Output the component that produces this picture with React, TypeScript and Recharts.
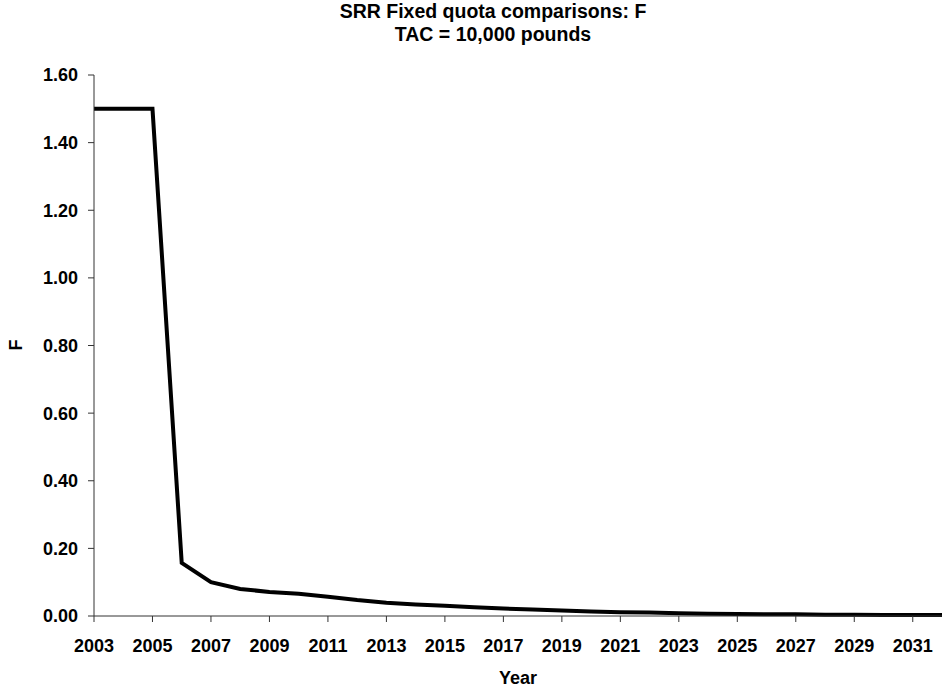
import React from 'react';
import { LineChart, Line, XAxis, YAxis, Label } from 'recharts';

// F by year
const years = [
  2003, 2004, 2005, 2006, 2007, 2008, 2009, 2010, 2011, 2012,
  2013, 2014, 2015, 2016, 2017, 2018, 2019, 2020, 2021, 2022,
  2023, 2024, 2025, 2026, 2027, 2028, 2029, 2030, 2031, 2032,
];
const fValues = [
  1.5, 1.5, 1.5, 0.157, 0.1, 0.08, 0.071, 0.066, 0.057, 0.047,
  0.039, 0.034, 0.03, 0.026, 0.022, 0.019, 0.016, 0.013, 0.011, 0.01,
  0.008, 0.007, 0.006, 0.005, 0.005, 0.004, 0.004, 0.003, 0.003, 0.003,
];
const xTicks = [2003, 2005, 2007, 2009, 2011, 2013, 2015, 2017, 2019, 2021, 2023, 2025, 2027, 2029, 2031];
const yTicks = [0, 0.2, 0.4, 0.6, 0.8, 1.0, 1.2, 1.4, 1.6];
const titleLines = ['SRR Fixed quota comparisons: F', 'TAC = 10,000 pounds'];

const data = years.map((year, i) => ({ year, f: fValues[i] }));

const FONT = '"Liberation Sans", Arial, sans-serif';
const axisColor = '#333';
const tickStyle = { fontFamily: FONT, fontSize: 18, fontWeight: 700, fill: '#000' };

export default function App() {
  return (
    <div style={{ position: 'absolute', left: 0, top: 0, width: 943, height: 688, background: '#fff' }}>
      <div
        style={{
          position: 'absolute',
          left: 0,
          top: 0,
          width: 986,
          textAlign: 'center',
          fontFamily: FONT,
          fontWeight: 700,
          fontSize: 19.5,
          lineHeight: '23px',
          color: '#000',
        }}
      >
        {titleLines.map((t) => (
          <div key={t}>{t}</div>
        ))}
      </div>
      <LineChart
        width={943}
        height={688}
        data={data}
        margin={{ top: 75, right: 1, bottom: 0, left: 0 }}
      >
        <XAxis
          dataKey="year"
          type="number"
          domain={[2003, 2032]}
          ticks={xTicks}
          interval={0}
          height={72}
          tickSize={6}
          tickMargin={17}
          stroke={axisColor}
          tick={tickStyle}
        >
          <Label
            value="Year"
            position="insideBottom"
            offset={4}
            style={{ fontFamily: FONT, fontSize: 18, fontWeight: 700, fill: '#000' }}
          />
        </XAxis>
        <YAxis
          domain={[0, 1.6]}
          ticks={yTicks}
          interval={0}
          width={94}
          tickSize={6}
          tickMargin={10}
          stroke={axisColor}
          tick={tickStyle}
          tickFormatter={(v: number) => v.toFixed(2)}
        >
          <Label
            content={() => (
              <text
                x={16}
                y={345}
                transform="rotate(-90, 16, 345)"
                textAnchor="middle"
                dominantBaseline="central"
                style={{ fontFamily: FONT, fontSize: 18, fontWeight: 700, fill: '#000' }}
              >
                F
              </text>
            )}
          />
        </YAxis>
        <Line
          type="linear"
          dataKey="f"
          stroke="#000"
          strokeWidth={4}
          dot={false}
          isAnimationActive={false}
        />
      </LineChart>
    </div>
  );
}
